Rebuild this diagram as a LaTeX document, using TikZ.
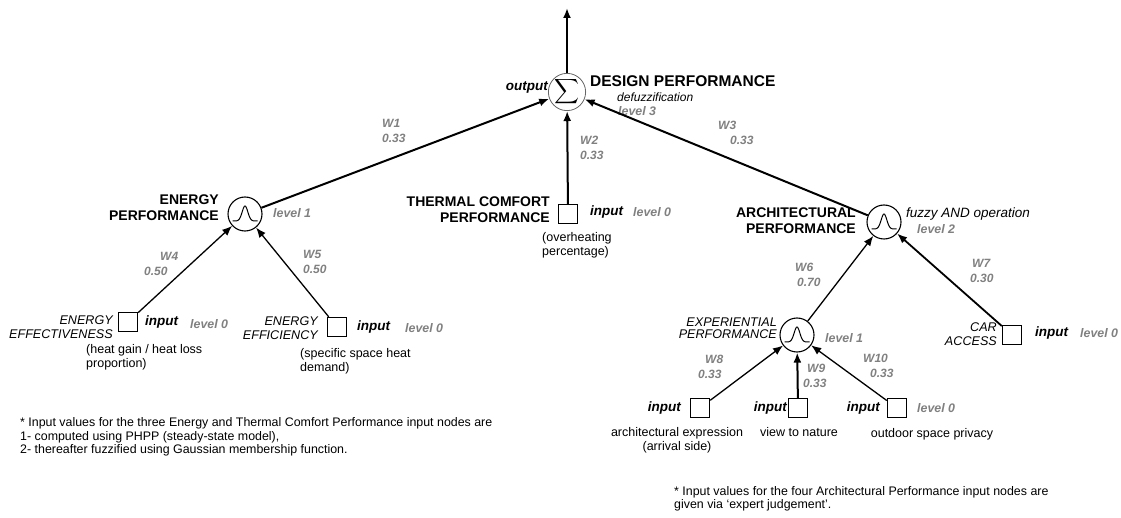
\documentclass[tikz,border=0pt]{standalone}
\usepackage{amsmath}
\usepackage{fontspec}
\setmainfont{Liberation Sans}
\usetikzlibrary{arrows.meta}

\newcommand\bellcurve[1]{\draw[line width=1pt, shift={(#1.center)}] plot[domain=-12.5:12.5, samples=41, smooth] (\x, {7-15*exp(-\x*\x/16)});}

\begin{document}
\begin{tikzpicture}[x=1pt,y=-1pt,
  unit/.style={circle, draw, line width=1.1pt, minimum size=34pt, inner sep=0pt},
  inbox/.style={draw, line width=1.4pt, minimum size=19pt, inner sep=0pt},
  link/.style={-{Latex[length=10pt,width=8pt]}, line width=1.3pt},
  mainlink/.style={link, line width=2pt},
  headlabel/.style={font=\fontsize{14}{16}\bfseries\selectfont, align=right, inner sep=0pt},
  sublabel/.style={font=\fontsize{12.6}{14}\itshape\selectfont, align=right, inner sep=0pt},
  inlabel/.style={font=\fontsize{13.5}{15}\bfseries\itshape\selectfont, inner sep=0pt},
  lvltag/.style={font=\fontsize{12.4}{14}\bfseries\itshape\selectfont, text=black!50, inner sep=0pt},
  wlabel/.style={font=\fontsize{12}{15}\bfseries\itshape\selectfont, text=black!50, align=left, inner sep=0pt},
  remark/.style={font=\fontsize{12.5}{14}\selectfont, align=left, inner sep=0pt},
  fnote/.style={font=\fontsize{12.4}{13.5}\selectfont, align=left, inner sep=0pt}]
\useasboundingbox (0,0) rectangle (1121,518);

% level 3
\node[unit, draw=black!60, line width=0.8pt, minimum size=35pt] (sum) at (567,92) {\fontsize{17}{17}\selectfont$\displaystyle\sum$};
\coordinate (top) at (567,8);
\node[inlabel, anchor=east] (outlbl) at (548,88) {output};
\node[font=\fontsize{15.5}{17}\bfseries\selectfont, anchor=west, inner sep=0pt] (design) at (590,81) {DESIGN PERFORMANCE};
\node[font=\fontsize{12}{14}\itshape\selectfont, anchor=west, inner sep=0pt] (defuzz) at (617,97) {defuzzification};
\node[lvltag, anchor=west] at (618,111) {level 3};

% level 2 / level 1 units
\node[unit] (ep) at (245,214) {};
\node[unit] (ap) at (884,222) {};
\node[unit] (xp) at (797,335) {};
\bellcurve{ep}
\bellcurve{ap}
\bellcurve{xp}

% inputs
\node[inbox] (tc) at (568,214) {};
\node[inbox] (ee) at (128,322) {};
\node[inbox] (ef) at (337,327) {};
\node[inbox] (ca) at (1012,335) {};
\node[inbox] (ae) at (700,408) {};
\node[inbox] (vn) at (798,408) {};
\node[inbox] (op) at (897,408) {};

% connectors
\draw[mainlink] (sum) -- (top);
\draw[mainlink] (ep) -- (sum);
\draw[mainlink] (tc) -- (sum);
\draw[mainlink] (ap) -- (sum);
\draw[link] (ee) -- (ep);
\draw[link] (ef) -- (ep);
\draw[link] (xp) -- (ap);
\draw[link, line width=1.8pt] (ca) -- (ap);
\draw[link] (ae) -- (xp);
\draw[mainlink] (vn) -- (xp);
\draw[link] (op) -- (xp);

% weights
\node[wlabel, anchor=west] at (382,131) {W1\\0.33};
\node[wlabel, anchor=west] at (580,148) {W2\\0.33};
\node[wlabel, anchor=west] at (718,133) {W3\\\hspace*{12pt}0.33};
\node[wlabel, anchor=west] at (144,264) {\hspace*{16pt}W4\\0.50};
\node[wlabel, anchor=west] at (303,262) {W5\\0.50};
\node[wlabel, anchor=west] at (795,275) {W6\\\hspace*{2pt}0.70};
\node[wlabel, anchor=west] at (970,271) {\hspace*{2pt}W7\\0.30};
\node[wlabel, anchor=west] at (698,367) {\hspace*{7pt}W8\\0.33};
\node[wlabel, anchor=west] at (803,376) {\hspace*{4pt}W9\\0.33};
\node[wlabel, anchor=west] at (863,366) {W10\\\hspace*{7pt}0.33};

% energy performance
\node[headlabel, anchor=east] at (219,208) {ENERGY\\PERFORMANCE};
\node[lvltag, anchor=west] at (273,213) {level 1};
\node[sublabel, anchor=east] at (113,327) {ENERGY\\EFFECTIVENESS};
\node[inlabel, anchor=west] at (145,322) {input};
\node[lvltag, anchor=west] at (190,324) {level 0};
\node[remark, anchor=west] at (86,357) {(heat gain / heat loss\\proportion)};
\node[sublabel, anchor=east] at (318,328) {ENERGY\\EFFICIENCY};
\node[inlabel, anchor=west] at (357,327) {input};
\node[lvltag, anchor=west] at (405,328) {level 0};
\node[remark, anchor=west] at (300,361) {(specific space heat\\demand)};

% thermal comfort
\node[headlabel, anchor=east] at (550,210) {THERMAL COMFORT\\PERFORMANCE};
\node[inlabel, anchor=west] at (590,212) {input};
\node[lvltag, anchor=west] at (633,212) {level 0};
\node[remark, anchor=west] at (542,245) {(overheating\\percentage)};

% architectural performance
\node[headlabel, anchor=east] at (856,221) {ARCHITECTURAL\\PERFORMANCE};
\node[sublabel, anchor=west, font=\fontsize{13.5}{14}\itshape\selectfont] at (906,214) {fuzzy AND operation};
\node[lvltag, anchor=west] at (917,229) {level 2};
\node[sublabel, anchor=east, font=\fontsize{12.6}{12.5}\itshape\selectfont] at (777,328) {EXPERIENTIAL\\PERFORMANCE};
\node[lvltag, anchor=west] at (825,338) {level 1};
\node[sublabel, anchor=east] at (997,334) {CAR\\ACCESS};
\node[inlabel, anchor=west] at (1035,333) {input};
\node[lvltag, anchor=west] at (1080,333) {level 0};
\node[inlabel, anchor=east] at (681,408) {input};
\node[inlabel, anchor=east] at (787,408) {input};
\node[inlabel, anchor=east] at (880,408) {input};
\node[lvltag, anchor=west] at (917,408) {level 0};
\node[remark, align=center] at (677,440) {architectural expression\\(arrival side)};
\node[remark] at (799,432) {view to nature};
\node[remark] at (932,434) {outdoor space privacy};

% notes
\node[fnote, anchor=west] at (20,437) {* Input values for the three Energy and Thermal Comfort Performance input nodes are\\1- computed using PHPP (steady-state model),\\2- thereafter fuzzified using Gaussian membership function.};
\node[fnote, anchor=west] at (674,499) {* Input values for the four Architectural Performance input nodes are\\given via `expert judgement'.};
\end{tikzpicture}
\end{document}
